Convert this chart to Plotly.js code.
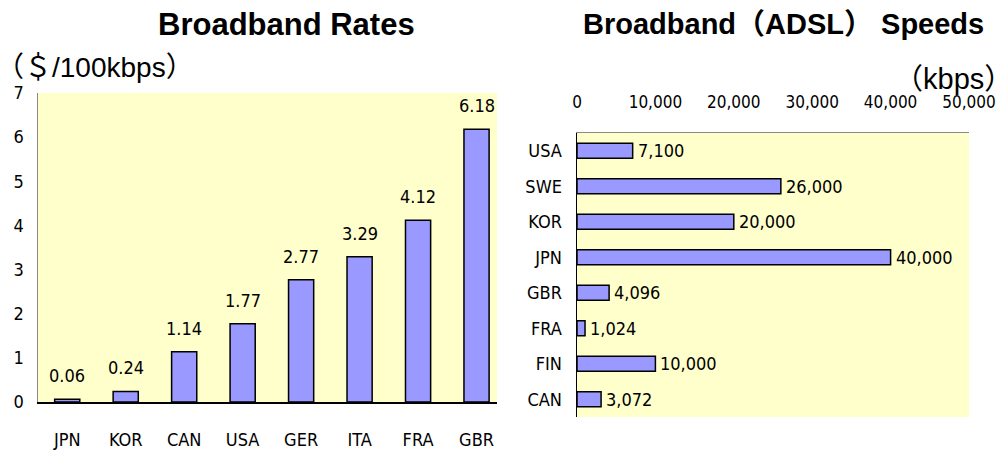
<!DOCTYPE html>
<html>
<head>
<meta charset="utf-8">
<script src="https://cdn.plot.ly/plotly-3.0.1.min.js"></script>
<style>html,body{margin:0;padding:0;background:#fff;}#chart{width:996px;height:451px;}</style>
</head>
<body>
<div id="chart"></div>
<script>
// Left chart: Broadband Rates ($/100kbps)
const rateCountries = ["JPN", "KOR", "CAN", "USA", "GER", "ITA", "FRA", "GBR"];
const rateValues = [0.06, 0.24, 1.14, 1.77, 2.77, 3.29, 4.12, 6.18];
const rateLabels = ["0.06", "0.24", "1.14", "1.77", "2.77", "3.29", "4.12", "6.18"];

// Right chart: Broadband (ADSL) Speeds (kbps), top to bottom
const speedCountries = ["USA", "SWE", "KOR", "JPN", "GBR", "FRA", "FIN", "CAN"];
const speedValues = [7100, 26000, 20000, 40000, 4096, 1024, 10000, 3072];
const speedLabels = ["7,100", "26,000", "20,000", "40,000", "4,096", "1,024", "10,000", "3,072"];
const speedTicks = [0, 10000, 20000, 30000, 40000, 50000];

const W = 996, H = 451;
const px = v => v / W;
const py = v => 1 - v / H;

const narrow = "'Liberation Sans Narrow', 'DejaVu Sans Condensed', 'Arial Narrow', sans-serif";
const sans = "'Liberation Sans', Arial, 'Noto Sans CJK JP', sans-serif";

const barFill = "#9999FF";
const barLine = {color: "#000000", width: 1.5};
const FS = 18;

const traces = [
  {
    type: "bar", x: rateCountries, y: rateValues, xaxis: "x", yaxis: "y",
    marker: {color: barFill, line: barLine}, width: 0.43, hoverinfo: "skip"
  },
  {
    type: "bar", orientation: "h", x: speedValues, y: speedCountries, xaxis: "x2", yaxis: "y2",
    marker: {color: barFill, line: barLine}, width: 0.42, hoverinfo: "skip"
  }
];

const annotations = [];
rateCountries.forEach((c, i) => {
  annotations.push({
    xref: "x", yref: "y", x: c, y: rateValues[i], text: rateLabels[i],
    showarrow: false, yanchor: "bottom", yshift: 11,
    font: {family: narrow, size: FS, color: "#000"}
  });
});
speedCountries.forEach((c, i) => {
  annotations.push({
    xref: "x2", yref: "y2", x: speedValues[i], y: c, text: speedLabels[i],
    showarrow: false, xanchor: "left", xshift: 3,
    font: {family: narrow, size: FS, color: "#000"}
  });
});
annotations.push(
  {xref: "paper", yref: "paper", x: px(286), y: py(24), text: "<b>Broadband Rates</b>",
   showarrow: false, xanchor: "center", yanchor: "middle",
   font: {family: sans, size: 31, color: "#000"}},
  {xref: "paper", yref: "paper", x: px(783), y: py(24), text: "<b>Broadband（ADSL） Speeds</b>",
   showarrow: false, xanchor: "center", yanchor: "middle",
   font: {family: sans, size: 29, color: "#000"}},
  {xref: "paper", yref: "paper", x: px(-6), y: py(68), text: "（＄/100kbps）",
   showarrow: false, xanchor: "left", yanchor: "middle",
   font: {family: sans, size: 28, color: "#000"}},
  {xref: "paper", yref: "paper", x: px(892), y: py(79), text: "（kbps）",
   showarrow: false, xanchor: "left", yanchor: "middle",
   font: {family: sans, size: 29, color: "#000"}}
);

const layout = {
  width: W, height: H,
  margin: {l: 0, r: 0, t: 0, b: 0, pad: 0},
  paper_bgcolor: "#ffffff",
  plot_bgcolor: "#FFFFCC",
  showlegend: false,
  xaxis: {
    domain: [px(38), px(497)], anchor: "y",
    type: "category", range: [-0.5, 7.35],
    showline: true, linecolor: "#000", linewidth: 1.5,
    ticks: "outside", ticklen: 21, tickcolor: "rgba(0,0,0,0)",
    showgrid: false, zeroline: false, fixedrange: true,
    tickfont: {family: narrow, size: FS, color: "#000"}
  },
  yaxis: {
    domain: [1 - 402 / H, 1 - 93 / H], anchor: "x",
    range: [0, 7], dtick: 1, tick0: 0,
    showline: true, linecolor: "#888", linewidth: 1.5,
    ticks: "outside", ticklen: 9, tickcolor: "rgba(0,0,0,0)",
    showgrid: false, zeroline: false, fixedrange: true,
    tickfont: {family: narrow, size: FS, color: "#000"}
  },
  xaxis2: {
    domain: [px(577), px(969)], anchor: "y2", side: "top",
    range: [0, 50000], tickvals: speedTicks, tickformat: ",",
    ticklabeloverflow: "allow",
    showline: true, linecolor: "#888", linewidth: 1.5,
    ticks: "outside", ticklen: 17, tickcolor: "rgba(0,0,0,0)",
    showgrid: false, zeroline: false, fixedrange: true,
    tickfont: {family: narrow, size: 17, color: "#000"}
  },
  yaxis2: {
    domain: [1 - 417 / H, 1 - 133 / H], anchor: "x2",
    type: "category", range: [7.5, -0.5],
    showline: true, linecolor: "#000", linewidth: 1.5,
    ticks: "outside", ticklen: 10, tickcolor: "rgba(0,0,0,0)",
    showgrid: false, zeroline: false, fixedrange: true,
    tickfont: {family: narrow, size: FS, color: "#000"}
  },
  annotations: annotations
};

Plotly.newPlot("chart", traces, layout, {displayModeBar: false, staticPlot: true});
</script>
</body>
</html>
